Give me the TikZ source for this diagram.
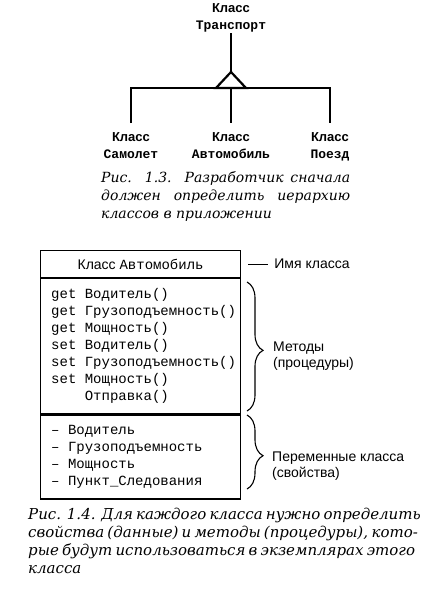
\documentclass[tikz,border=0pt]{standalone}
\usepackage{fontspec}
\setmainfont{Liberation Sans}
\setmonofont{Liberation Mono}
\newfontfamily\capfont{DejaVu Serif}
\usetikzlibrary{decorations.pathreplacing}

\begin{document}
\begin{tikzpicture}[
        x=1pt, y=-1pt,
        cls/.style={align=center, inner sep=1pt,
                    font=\fontsize{13}{17}\selectfont\bfseries},
        link/.style={line width=2.2pt},
        part/.style={draw, line width=1.2pt, minimum width=200pt,
                     anchor=north west, inner sep=0pt},
        code/.style={align=left, inner sep=0pt, anchor=west,
                     font=\ttfamily\fontsize{14}{17}\selectfont},
        note/.style={align=left, inner sep=0pt, anchor=west,
                     font=\fontsize{14}{15.5}\selectfont},
        brc/.style={decorate, decoration={brace, amplitude=16pt, aspect=#1},
                    line width=1.1pt},
        caption/.style={align=left, inner sep=0pt, anchor=north west,
                        font=\capfont\itshape\fontsize{14}{18}\selectfont},
    ]
        \useasboundingbox (0,0) rectangle (426,589);

        % Hierarchy
        \node[cls, anchor=south] (transport) at (231,33)
              {Класс\\\texttt{Транспорт}};
        \coordinate (apex) at (231,72);
        \coordinate (bar) at (231,88);
        \node[cls, anchor=north] (plane) at (131,131)
              {Класс\\\texttt{Самолет}};
        \node[cls, anchor=north] (car) at (231,131)
              {Класс\\\texttt{Автомобиль}};
        \node[cls, anchor=north] (train) at (330,131)
              {Класс\\\texttt{Поезд}};

        \draw[link] (transport.south) -- (apex);
        \draw[link] (apex) -- ++(-15,16) -- ++(30,0) -- cycle;
        \draw[link] ([yshift=8pt]plane.north) |- (bar) -| ([yshift=8pt]train.north);
        \draw[link] (bar) -- ([yshift=8pt]car.north);

        \node[caption] (fig13) at (101,171)
              {\makebox[249pt][s]{Рис. 1.3. Разработчик сначала}\\
               \makebox[249pt][s]{должен определить иерархию}\\
               классов в приложении};

        % Class box
        \node[part, minimum height=27pt, font=\fontsize{14}{17}\selectfont]
              (clsname) at (40,250) {Класс \texttt{Автомобиль}};
        \node[part, minimum height=135pt] (methods) at (clsname.south west) {};
        \node[part, minimum height=84pt] (fields) at (methods.south west) {};

        \node[code] (methodlist) at ([xshift=11pt]methods.west)
              {get Водитель()\\
               get Грузоподъемность()\\
               get Мощность()\\
               set Водитель()\\
               set Грузоподъемность()\\
               set Мощность()\\
               \phantom{set}\ Отправка()};
        \node[code] (fieldlist) at ([xshift=11pt]fields.west)
              {– Водитель\\
               – Грузоподъемность\\
               – Мощность\\
               – Пункт\_Следования};

        % Labels
        \node[note] (namelabel) at ([xshift=33pt]clsname.east) {Имя класса};
        \draw[line width=1.1pt] ([xshift=7pt]clsname.east) -- ([xshift=-6pt]namelabel.west);
        \draw[brc=0.53] (247,282) -- (247,411);
        \node[note] (methodlabel) at (273,356) {Методы\\(процедуры)};
        \draw[brc=0.55] (247,415) -- (247,489);
        \node[note] (fieldlabel) at (272,466) {Переменные класса\\(свойства)};

        \node[caption, font=\capfont\itshape\fontsize{15}{17.8}\selectfont]
              (fig14) at (28,508)
              {\makebox[375pt][s]{Рис. 1.4. Для каждого класса нужно определить}\\
               \makebox[375pt][s]{свойства (данные) и методы (процедуры), кото-}\\
               \makebox[375pt][s]{рые будут использоваться в экземплярах этого}\\
               класса};
    \end{tikzpicture}
\end{document}
